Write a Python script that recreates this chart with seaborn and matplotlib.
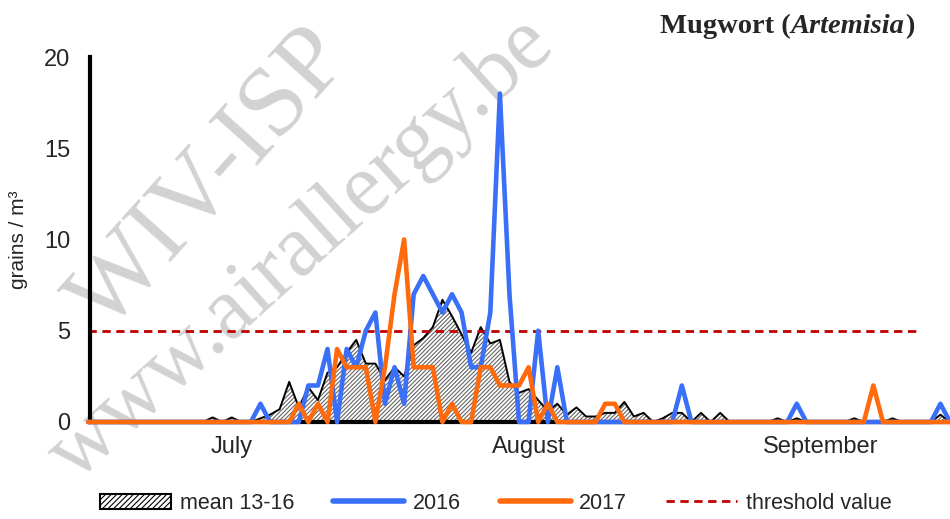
import numpy as np
import pandas as pd
import matplotlib
matplotlib.use("Agg")
import matplotlib.pyplot as plt
import seaborn as sns
from matplotlib.patches import Patch
from matplotlib.lines import Line2D

# ==========================================
# data: daily pollen counts, 1 July .. 30 September
# ==========================================
months = ["July", "August", "September"]
month_len = [31, 31, 30]

mean_13_16 = [0] * 13 + [
    0.25, 0, 0.25, 0, 0, 0.2, 0.4,
    0.7, 2.2, 0.8, 1.9, 1.2, 2.7, 3.0, 3.8, 4.5, 3.2,
    3.2, 2.3, 3.0, 2.5, 4.2, 4.6, 5.2, 6.7, 5.8, 4.8,
    3.8, 5.2, 4.3, 4.5, 2.2, 1.6, 1.8, 1.2, 0.6, 1.0,
    0.4, 0.8, 0.3, 0.3, 0.5, 0.5, 1.1, 0.3, 0.5, 0,
    0.2, 0.5, 0.5, 0, 0.5, 0, 0.5, 0, 0, 0,
    0, 0, 0.2, 0, 0.2, 0, 0, 0, 0, 0,
    0.2, 0, 0, 0, 0.2, 0, 0, 0, 0, 0.4, 0, 0]

y2016 = [0] * 10 + [
    0, 0, 0, 0, 0, 0, 0, 0, 1, 0,
    0, 0, 0, 2, 2, 4, 0, 4, 3, 5,
    6, 1, 3, 1, 7, 8, 7, 6, 7, 6,
    3, 3, 6, 18, 7, 0, 0, 5, 0, 3,
    0, 0, 0, 0, 0, 0, 0, 0, 0, 0,
    0, 0, 2, 0, 0, 0, 0, 0, 0, 0,
    0, 0, 0, 0, 1, 0, 0, 0, 0, 0,
    0, 0, 0, 0, 0, 0, 0, 0, 0, 1, 0, 0]

y2017 = [0] * 20 + [
    0, 0, 1, 0, 1, 0, 4, 3, 3, 3,
    0, 3, 7, 10, 3, 3, 3, 0, 1, 0,
    0, 3, 3, 2, 2, 2, 3, 0, 1, 0,
    0, 0, 0, 0, 1, 1, 0, 0, 0, 0,
    0, 0, 0, 0, 0, 0, 0, 0, 0, 0,
    0, 0, 0, 0, 0, 0, 0, 0, 0, 0,
    0, 0, 2, 0, 0, 0, 0, 0, 0, 0, 0, 0]

threshold = 5

days = np.arange(len(mean_13_16))
df = pd.DataFrame({"day": np.concatenate([days, days]),
                   "grains": y2016 + y2017,
                   "year": ["2016"] * len(days) + ["2017"] * len(days)})

# ==========================================
# figure
# ==========================================
sns.set_style("white")
plt.rcParams["font.family"] = ["Liberation Sans", "DejaVu Sans"]
plt.rcParams["hatch.linewidth"] = 0.8

fig = plt.figure(figsize=(9.5, 5.19), dpi=100)
ax = fig.add_axes([90 / 950, 97 / 519, 860 / 950, 365 / 519])

# watermark (behind the data)
wm = dict(transform=fig.transFigure, family="Liberation Serif", color="#d2d2d2",
          ha="center", va="center", rotation_mode="anchor", zorder=0, clip_on=False)
ax.text(0.222, 0.652, "WIV-ISP", fontsize=72, rotation=48, **wm)
ax.text(0.318, 0.518, "www.airallergy.be", fontsize=64, rotation=42, **wm)

# mean 13-16: hatched area
ax.fill_between(days, mean_13_16, 0, facecolor="white", edgecolor="#666666",
                hatch="////////", linewidth=0, zorder=1)
ax.plot(days, mean_13_16, color="black", lw=1.4, zorder=2)

# threshold
ax.plot(days[:88], [threshold] * 88, color="#c00000", lw=2, ls=(0, (3, 2)), zorder=2)

sns.lineplot(data=df, x="day", y="grains", hue="year",
             palette={"2016": "#3a6ff7", "2017": "#ff6a0d"},
             lw=3.3, ax=ax, legend=False, zorder=3, clip_on=False)

ax.set_xlim(0.2, 90.0)
ax.set_ylim(0, 20)
ax.set_yticks([0, 5, 10, 15, 20])
ax.set_xlabel("")
ax.set_ylabel("grains / m³", fontsize=15, labelpad=12)

bounds = np.cumsum([0] + month_len)
ax.set_xticks(bounds[1:-1])
ax.set_xticklabels([])
ax.set_xticks(bounds[:-1] + np.array(month_len) / 2 - 0.5, minor=True)
ax.set_xticklabels(months, minor=True, fontsize=17)
ax.tick_params(axis="x", which="major", direction="out", length=6, width=3, color="black")
ax.tick_params(axis="x", which="minor", length=0, pad=10)
ax.tick_params(axis="y", direction="out", length=5, width=3, color="black",
               labelsize=17, pad=9)

for s in ["top", "right"]:
    ax.spines[s].set_visible(False)
for s in ["left", "bottom"]:
    ax.spines[s].set_linewidth(3)
    ax.spines[s].set_color("black")

# title in the top right corner
tfont = dict(family="Liberation Serif", fontweight="bold", fontsize=20.5)
t1 = fig.text(660 / 950, 1 - 33 / 519, "Mugwort (", va="baseline", **tfont)
t2 = ax.annotate("Artemisia", xy=(1, 0), xycoords=t1, va="bottom", style="italic", **tfont)
ax.annotate(")", xy=(1, 0), xycoords=t2, va="bottom", **tfont)

handles = [Patch(facecolor="white", edgecolor="black", hatch="//////", lw=1.5),
           Line2D([], [], color="#3a6ff7", lw=4),
           Line2D([], [], color="#ff6a0d", lw=4),
           Line2D([], [], color="#c00000", lw=2, ls=(0, (3, 2)))]
fig.legend(handles, ["mean 13-16", "2016", "2017", "threshold value"],
           loc="center", bbox_to_anchor=(0.522, 0.03), ncol=4, frameon=False,
           fontsize=15.5, handlelength=3.3, handletextpad=0.4, columnspacing=1.8)

fig.savefig("out.png", dpi=100)
